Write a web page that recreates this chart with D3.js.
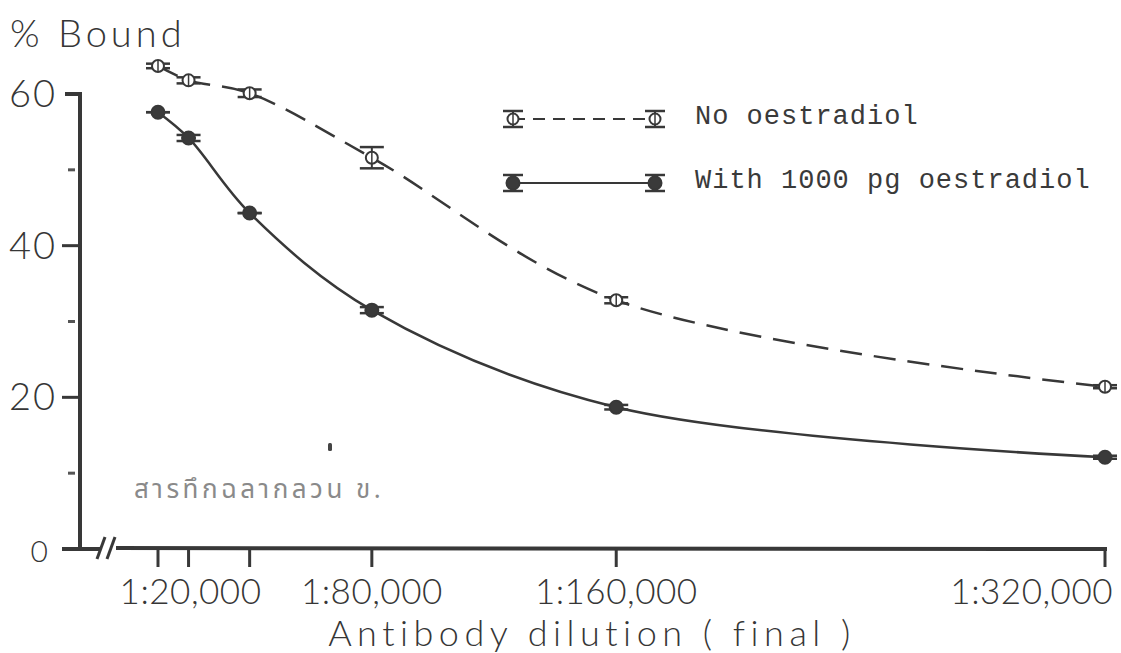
<!DOCTYPE html>
<html>
<head>
<meta charset="utf-8">
<script src="https://cdn.jsdelivr.net/npm/d3@7"></script>
<style>
  html, body { margin: 0; padding: 0; background: #ffffff; }
  svg { display: block; }
  .lab { font-family: Lato, "Open Sans", sans-serif; font-weight: 300; fill: #363636; }
  .mono { font-family: "Liberation Mono", "DejaVu Sans Mono", monospace; fill: #3a3a3a; }
</style>
</head>
<body>
<svg id="chart" width="1121" height="653"></svg>
<script>
// Antibody dilution (reciprocal of final dilution)
const dilutions = [10000, 20000, 40000, 80000, 160000, 320000];
// % bound, no oestradiol
const noOestradiol = [63.7, 61.8, 60.1, 51.6, 32.8, 21.4];
const noOestradiolErr = [0.3, 0.4, 0.5, 1.4, 0.4, 0.2];
// % bound, with 1000 pg oestradiol
const withOestradiol = [57.6, 54.2, 44.3, 31.5, 18.7, 12.1];
const withOestradiolErr = [0.0, 0.4, 0.0, 0.4, 0.3, 0.2];
// axis labels
const xTickLabels = [
  { d: 20000, text: "1:20,000" },
  { d: 80000, text: "1:80,000" },
  { d: 160000, text: "1:160,000" },
  { d: 320000, text: "1:320,000" }
];
const yMajorTicks = [0, 20, 40, 60];
const yMinorTicks = [10, 30, 50];
const legendLabels = ["No oestradiol", "With 1000 pg oestradiol"];

const ink = "#383838";
const svg = d3.select("#chart");

const x = d3.scaleLinear().domain([10000, 320000]).range([158, 1105]);
const y = d3.scaleLinear().domain([0, 60]).range([549, 94]);
const axisX = 80;

// y axis line with cap at the top
svg.append("path")
  .attr("d", `M${axisX - 15},${y(60)} H${axisX} V${y(0)}`)
  .attr("fill", "none").attr("stroke", ink).attr("stroke-width", 4);

// y major ticks
svg.selectAll(".ymaj").data(yMajorTicks.filter(v => v !== 60)).join("line")
  .attr("x1", axisX - 18).attr("x2", axisX)
  .attr("y1", d => y(d)).attr("y2", d => y(d))
  .attr("stroke", ink).attr("stroke-width", 3);
// y minor ticks
svg.selectAll(".ymin").data(yMinorTicks).join("line")
  .attr("x1", axisX - 12).attr("x2", axisX - 5)
  .attr("y1", d => y(d)).attr("y2", d => y(d))
  .attr("stroke", "#555").attr("stroke-width", 3);
// y labels
svg.selectAll(".ylab").data(yMajorTicks).join("text")
  .attr("class", "lab")
  .attr("x", d => d === 0 ? 50 : 57)
  .attr("y", d => y(d) + 13)
  .attr("text-anchor", "end")
  .attr("font-size", d => d === 0 ? 30 : 38)
  .attr("letter-spacing", 2)
  .text(d => d);

// x axis: short stub, break, main line
svg.append("line").attr("x1", axisX - 18).attr("x2", 100)
  .attr("y1", y(0)).attr("y2", y(0)).attr("stroke", ink).attr("stroke-width", 4);
svg.append("line").attr("x1", 116).attr("x2", x(320000) + 2)
  .attr("y1", y(0) - 1).attr("y2", y(0)).attr("stroke", ink).attr("stroke-width", 4);
[0, 10].forEach(o => {
  svg.append("line")
    .attr("x1", 97 + o).attr("y1", y(0) + 10)
    .attr("x2", 105 + o).attr("y2", y(0) - 12)
    .attr("stroke", ink).attr("stroke-width", 3);
});
// x ticks
svg.selectAll(".xt").data(dilutions).join("line")
  .attr("x1", d => x(d)).attr("x2", d => x(d))
  .attr("y1", y(0)).attr("y2", y(0) + 18)
  .attr("stroke", ink).attr("stroke-width", 3);
// x tick labels
svg.selectAll(".xl").data(xTickLabels).join("text")
  .attr("class", "lab")
  .attr("x", d => d.d === 320000 ? x(d.d) + 8 : x(d.d) + (d.d === 20000 ? 2 : 0))
  .attr("y", 604)
  .attr("text-anchor", d => d.d === 320000 ? "end" : "middle")
  .attr("font-size", 35)
  .attr("letter-spacing", 0.5)
  .text(d => d.text);

// axis titles
svg.append("text").attr("class", "lab")
  .attr("x", 592).attr("y", 646).attr("text-anchor", "middle")
  .attr("font-size", 36).attr("letter-spacing", 5.5)
  .text("Antibody dilution ( final )");
svg.append("text").attr("class", "lab")
  .attr("x", 10).attr("y", 47)
  .attr("font-size", 38).attr("letter-spacing", 4)
  .text("% Bound");

// curves
const line = d3.line().x(d => x(d[0])).y(d => y(d[1])).curve(d3.curveCatmullRom.alpha(0.5));
const openPts = dilutions.map((d, i) => [d, noOestradiol[i]]);
const filledPts = dilutions.map((d, i) => [d, withOestradiol[i]]);
svg.append("path").attr("d", line(openPts))
  .attr("fill", "none").attr("stroke", ink).attr("stroke-width", 2.5)
  .attr("stroke-dasharray", "22 12");
svg.append("path").attr("d", line(filledPts))
  .attr("fill", "none").attr("stroke", ink).attr("stroke-width", 2.5);

// error bars with caps, then point symbols
function drawPoints(pts, errs, filled) {
  const g = svg.append("g");
  pts.forEach((p, i) => {
    const cx = x(p[0]);
    const yt = y(p[1] + errs[i]), yb = y(p[1] - errs[i]);
    g.append("line").attr("x1", cx).attr("x2", cx).attr("y1", yt).attr("y2", yb)
      .attr("stroke", ink).attr("stroke-width", 2);
    [yt, yb].forEach(yy => g.append("line")
      .attr("x1", cx - 12).attr("x2", cx + 12).attr("y1", yy).attr("y2", yy)
      .attr("stroke", ink).attr("stroke-width", 2.5));
    g.append("circle").attr("cx", cx).attr("cy", y(p[1])).attr("r", filled ? 6.5 : 6)
      .attr("fill", filled ? "#3a3a3a" : "#fff")
      .attr("stroke", ink).attr("stroke-width", 2);
    if (!filled) {
      g.append("line").attr("x1", cx).attr("x2", cx)
        .attr("y1", y(p[1]) - 6).attr("y2", y(p[1]) + 6)
        .attr("stroke", ink).attr("stroke-width", 1.5);
    }
  });
}
drawPoints(openPts, noOestradiolErr, false);
drawPoints(filledPts, withOestradiolErr, true);

// legend
function legendSymbol(cx, cy, filled) {
  svg.append("line").attr("x1", cx).attr("x2", cx).attr("y1", cy - 8).attr("y2", cy + 8)
    .attr("stroke", ink).attr("stroke-width", 2);
  [cy - 8, cy + 8].forEach(yy => svg.append("line")
    .attr("x1", cx - 10).attr("x2", cx + 10).attr("y1", yy).attr("y2", yy)
    .attr("stroke", ink).attr("stroke-width", 2.5));
  svg.append("circle").attr("cx", cx).attr("cy", cy).attr("r", filled ? 6.5 : 5.5)
    .attr("fill", filled ? "#3a3a3a" : "#fff").attr("stroke", ink).attr("stroke-width", 2);
  if (!filled) svg.append("line").attr("x1", cx).attr("x2", cx)
    .attr("y1", cy - 6).attr("y2", cy + 6).attr("stroke", ink).attr("stroke-width", 1.5);
}
const legRows = [{ y: 119, filled: false }, { y: 183, filled: true }];
legRows.forEach((r, i) => {
  svg.append("line").attr("x1", 513).attr("x2", 655).attr("y1", r.y).attr("y2", r.y)
    .attr("stroke", ink).attr("stroke-width", 2)
    .attr("stroke-dasharray", r.filled ? null : "12 8");
  legendSymbol(513, r.y, r.filled);
  legendSymbol(655, r.y, r.filled);
  svg.append("text").attr("class", "mono")
    .attr("x", 695).attr("y", r.y + 5)
    .attr("font-size", 27).attr("letter-spacing", 1)
    .text(legendLabels[i]);
});

// stamped note
svg.append("text")
  .attr("x", 134).attr("y", 498)
  .attr("font-family", "'Noto Sans Thai', 'Noto Serif Thai', Loma, Garuda, 'Noto Sans', sans-serif")
  .attr("font-size", 26).attr("letter-spacing", 3.5)
  .attr("fill", "#8a8a8a")
  .text("สารทึกฉลากลวน ข.");
svg.append("rect").attr("x", 328).attr("y", 443).attr("width", 4).attr("height", 8)
  .attr("rx", 1.5).attr("fill", "#444");
</script>
</body>
</html>
